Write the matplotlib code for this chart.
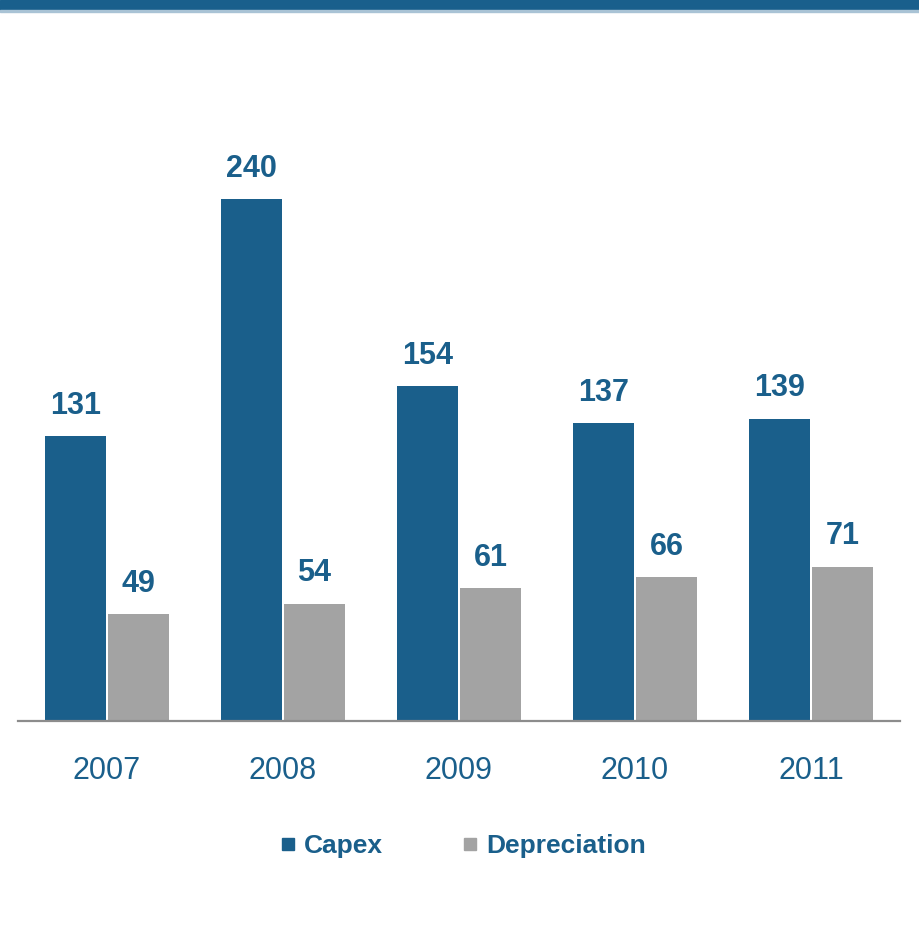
import numpy as np
import matplotlib
matplotlib.use('Agg')
import matplotlib.pyplot as plt
from matplotlib.patches import Rectangle
from matplotlib.lines import Line2D

plt.rcParams['font.family'] = ['Liberation Sans', 'DejaVu Sans']

years = ['2007', '2008', '2009', '2010', '2011']
capex = [131, 240, 154, 137, 139]
depreciation = [49, 54, 61, 66, 71]

BLUE = '#1a5f8b'
GREY = '#a3a3a3'

W, H = 920, 930
fig = plt.figure(figsize=(W / 100, H / 100), dpi=100)

# top banner
fig.patches.append(Rectangle((0, 1 - 10 / H), 1, 10 / H, transform=fig.transFigure,
                             color='#195f8c', zorder=0))
fig.patches.append(Rectangle((0, 1 - 12 / H), 1, 2 / H, transform=fig.transFigure,
                             color='#a9c3d5', zorder=0))

# axes placed in pixel terms: baseline at y=721, 2.175 px per unit
base_px, scale, ymax = 721, 2.175, 300
ax = fig.add_axes([18 / W, 1 - base_px / H, 882 / W, ymax * scale / H])

x = np.arange(len(years))
bw = 61 / 176
off = 63 / 2 / 176
ax.bar(x - off, capex, bw, color=BLUE)
ax.bar(x + off, depreciation, bw, color=GREY)

for xi, c, d in zip(x, capex, depreciation):
    ax.annotate(str(c), (xi - off, c), xytext=(0, 11), textcoords='offset points',
                ha='center', va='bottom', fontsize=22, fontweight='bold', color=BLUE)
    ax.annotate(str(d), (xi + off, d), xytext=(0, 11), textcoords='offset points',
                ha='center', va='bottom', fontsize=22, fontweight='bold', color=BLUE)

ax.set_xlim(-0.506, 4.506)
ax.set_ylim(0, ymax)
ax.set_xticks(x)
ax.set_xticklabels(years, fontsize=22, color=BLUE)
ax.tick_params(axis='x', length=0, pad=25)
ax.set_yticks([])
for s in ['top', 'right', 'left']:
    ax.spines[s].set_visible(False)
ax.spines['bottom'].set_color('#8c8c8c')
ax.spines['bottom'].set_linewidth(1.6)

handles = [Line2D([], [], marker='s', linestyle='', markersize=8.5, color=BLUE),
           Line2D([], [], marker='s', linestyle='', markersize=8.5, color=GREY)]
leg = fig.legend(handles, ['Capex', 'Depreciation'], loc='center',
                 bbox_to_anchor=(463 / W, 1 - 846 / H), ncol=2, frameon=False,
                 handlelength=0.6, handletextpad=0.3, columnspacing=3.0,
                 prop={'size': 19, 'weight': 'bold'})
for t in leg.get_texts():
    t.set_color(BLUE)

fig.savefig('out.png', dpi=100)
